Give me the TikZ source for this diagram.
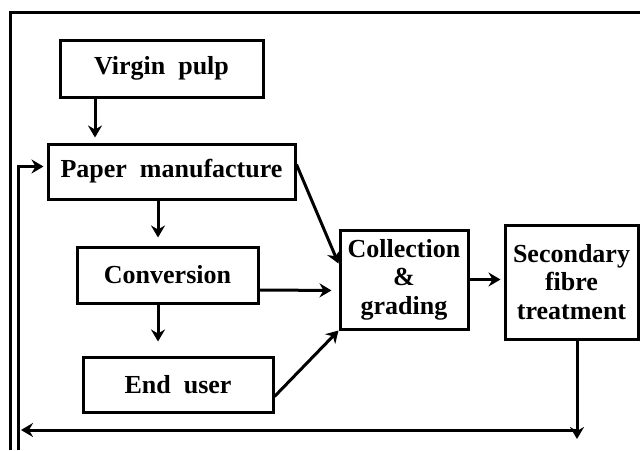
\documentclass[tikz,border=0pt]{standalone}
\usepackage{fontspec}
\setmainfont{Liberation Serif}
\usetikzlibrary{arrows.meta,positioning}

\begin{document}
\begin{tikzpicture}[x=1pt,y=-1pt]
\tikzset{
  procbox/.style={rectangle,draw=black,line width=3pt,align=center,inner sep=0pt,font=\fontsize{26}{28.5}\selectfont\bfseries},
  flowline/.style={draw=black,line width=3pt,line join=miter},
  flowarrow/.style={flowline,-{Stealth[length=12pt,width=14pt,inset=4pt]}}
}
\useasboundingbox (0,0) rectangle (640,450);
\node[procbox,minimum width=203,minimum height=57] (n_virgin) at (161.5,68.5) {Virgin\ \ pulp};
\node[procbox,minimum width=247,minimum height=55] (n_paper) at (171.5,171.5) {Paper\ \ manufacture};
\node[procbox,minimum width=181,minimum height=56] (n_conv) at (167.5,275) {Conversion};
\node[procbox,minimum width=190,minimum height=55] (n_end) at (178,384.5) {End\ \ user};
\node[procbox,minimum width=128,minimum height=99] (n_coll) at (404,279.5) {Collection\\\&\\grading};
\node[procbox,minimum width=133,minimum height=114] (n_second) at (571.5,282) {Secondary\\fibre\\treatment};
\coordinate (c_frameB) at (10,450);
\coordinate (c_frameR) at (640,12);
\coordinate (c_loopB) at (18,450);
\coordinate (c_retR) at (577,430);
\coordinate (c_retL) at (18,430);
\coordinate (c_down) at (577,439);
% outer frame
\draw[flowline] (c_frameB) |- (c_frameR);
% main chain
\draw[flowarrow,shorten >=5pt] ([xshift=-66.5pt]n_virgin.south) -- ([xshift=-66.5pt]n_virgin.south |- n_paper.north);
\draw[flowarrow,shorten >=8pt] ([xshift=-13.5pt]n_paper.south) -- ([xshift=-13.5pt]n_paper.south |- n_conv.north);
\draw[flowarrow,shorten >=14pt] ([xshift=-9.5pt]n_conv.south) -- ([xshift=-9.5pt]n_conv.south |- n_end.north);
% into collection
\draw[flowarrow] ([yshift=7pt]n_paper.east) -- ([yshift=16pt]n_coll.west);
\draw[flowarrow,shorten >=7pt] ([yshift=-15pt]n_conv.east) -- ([yshift=-11pt]n_coll.west);
\draw[flowarrow] ([yshift=-12pt]n_end.east) -- (n_coll.south west);
\draw[flowarrow,shorten >=3pt] (n_coll.east) -- (n_coll.east -| n_second.west);
% return loop
\draw[flowarrow] (n_second.south -| c_down) -- (c_down);
\draw[flowarrow,shorten >=3pt] (c_retR) -- (c_retL);
\draw[flowarrow,shorten >=3pt] (c_loopB) |- ([yshift=5pt]n_paper.west);
\end{tikzpicture}
\end{document}
